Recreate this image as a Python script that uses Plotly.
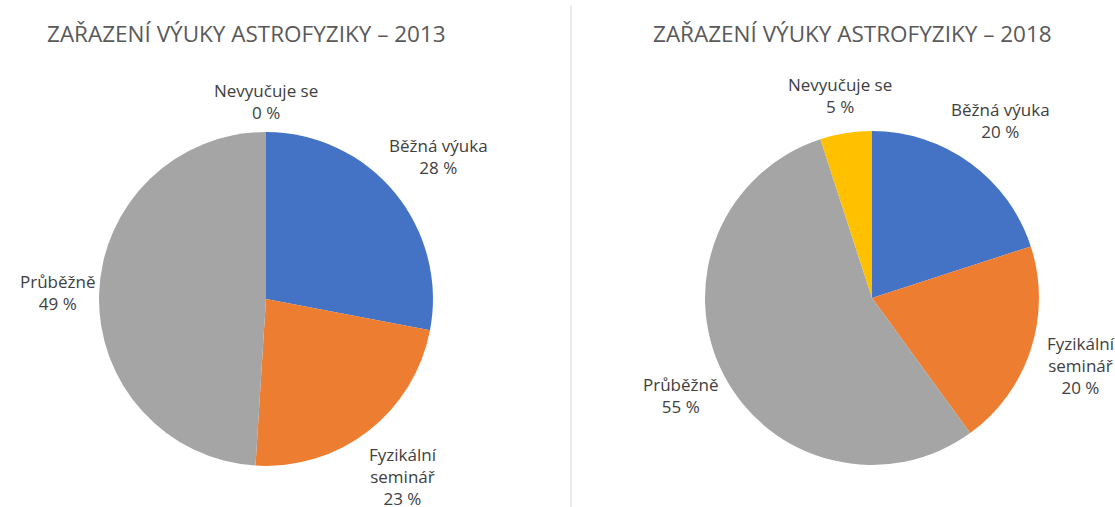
import math
import plotly.graph_objects as go

# slice names and values
labels_2013 = ["Běžná výuka", "Fyzikální<br>seminář", "Průběžně", "Nevyučuje se"]
values_2013 = [28, 23, 49, 0]
labels_2018 = ["Běžná výuka", "Fyzikální<br>seminář", "Průběžně", "Nevyučuje se"]
values_2018 = [20, 20, 55, 5]

colors = ["#4472C4", "#ED7D31", "#A5A5A5", "#FFC000"]
W, H = 1115, 507

fig = go.Figure()

# (domain x, domain y, title, labels, values)
pies = [
    ([0.0888, 0.3883], [0.0809, 0.7397], "ZAŘAZENÍ VÝUKY ASTROFYZIKY – 2013", labels_2013, values_2013),
    ([0.6323, 0.9318], [0.0828, 0.7416], "ZAŘAZENÍ VÝUKY ASTROFYZIKY – 2018", labels_2018, values_2018),
]

for dx, dy, title, labs, vals in pies:
    fig.add_trace(go.Pie(
        labels=labs,
        values=vals,
        sort=False,
        direction="clockwise",
        rotation=0,
        marker=dict(colors=colors, line=dict(width=0)),
        textinfo="none",
        hoverinfo="label+percent",
        domain=dict(x=dx, y=dy),
        showlegend=False,
    ))

    # data labels sit outside the pie, along each slice's mid-angle
    cx = (dx[0] + dx[1]) / 2
    cy = (dy[0] + dy[1]) / 2
    r = min((dx[1] - dx[0]) * W, (dy[1] - dy[0]) * H) / 2
    total = sum(vals)
    start = 0.0
    for lab, v in zip(labs, vals):
        pct = v / total
        mid = (start + pct / 2) * 2 * math.pi
        start += pct
        lines = lab.split("<br>") + [f"{round(pct * 100)} %"]
        w = max(len(s) for s in lines) * 8
        h = len(lines) * 23
        d = r + 8 + (w / 2) * abs(math.sin(mid)) + (h / 2) * abs(math.cos(mid))
        fig.add_annotation(
            x=cx + d * math.sin(mid) / W,
            y=cy + d * math.cos(mid) / H,
            xref="paper", yref="paper",
            text="<br>".join(lines),
            showarrow=False,
            xanchor="center", yanchor="middle",
            font=dict(size=17, color="#404040"),
        )

    fig.add_annotation(
        x=cx - 19 / W, y=1 - 33 / H,
        xref="paper", yref="paper",
        text=title,
        showarrow=False,
        xanchor="center", yanchor="middle",
        font=dict(size=22.5, color="#595959"),
    )

# thin divider between the two charts
fig.add_shape(
    type="line", xref="paper", yref="paper",
    x0=571 / W, x1=571 / W, y0=0, y1=1 - 5 / H,
    line=dict(color="#D9D9D9", width=1),
)

fig.update_layout(
    width=W,
    height=H,
    margin=dict(l=0, r=0, t=0, b=0),
    paper_bgcolor="white",
    plot_bgcolor="white",
    font_family="Open Sans",
)

fig.write_html(
    "out.html",
    config={"displayModeBar": False},
    post_script="document.body.style.margin='0';",
)
